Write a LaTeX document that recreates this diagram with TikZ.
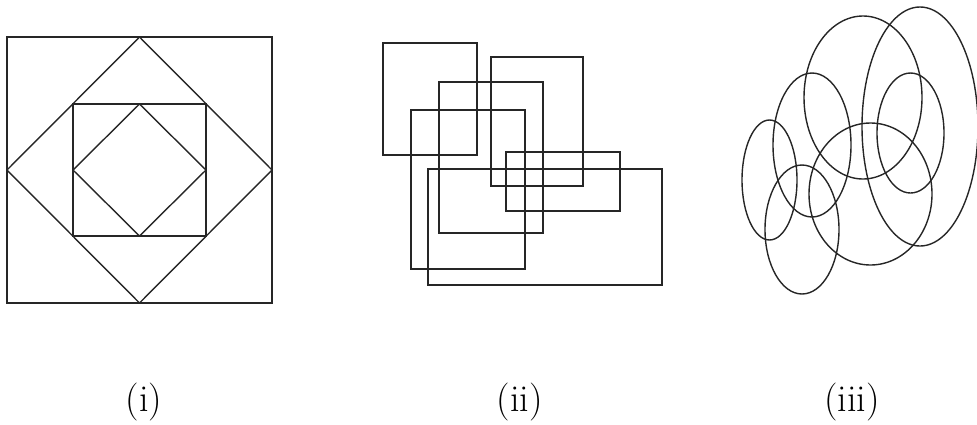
\documentclass[tikz,border=0pt]{standalone}
\begin{document}
\begin{tikzpicture}[x=1pt,y=-1pt,
  shape line/.style={draw=black!85,line width=1.4pt,line join=miter},
  caption/.style={anchor=base,inner sep=0pt,font=\fontsize{38}{40}\selectfont}]
\useasboundingbox (0,0) rectangle (977,424);
% (i)
\draw[shape line] (7,37) rectangle (272,303);
\draw[shape line] (139.5,37) -- (272,170) -- (139.5,303) -- (7,170) -- cycle;
\draw[shape line] (73,104) rectangle (206,236);
\draw[shape line] (139.5,104) -- (206,170) -- (139.5,236) -- (73,170) -- cycle;
% (ii)
\draw[shape line] (383,43) rectangle (477,155);
\draw[shape line] (491,57) rectangle (583,186);
\draw[shape line] (439,82) rectangle (543,233);
\draw[shape line] (411,110) rectangle (525,269);
\draw[shape line] (506,152) rectangle (620,211);
\draw[shape line] (428,169) rectangle (662,285);
% (iii)
\draw[shape line] (769.5,180) ellipse [x radius=27.5,y radius=60];
\draw[shape line] (812,145) ellipse [x radius=39,y radius=72];
\draw[shape line] (863,97.5) ellipse [x radius=59,y radius=81.5];
\draw[shape line] (920,126.5) ellipse [x radius=58,y radius=119.5];
\draw[shape line] (910.5,133) ellipse [x radius=33.5,y radius=60];
\draw[shape line] (870.5,194) ellipse [x radius=61.5,y radius=71];
\draw[shape line] (802,229.5) ellipse [x radius=37,y radius=64.5];
% captions
\node[caption] (c1) at (144,411.5) {(i)};
\node[caption] (c2) at (519.5,411.5) {(ii)};
\node[caption] (c3) at (852,411.5) {(iii)};
\end{tikzpicture}
\end{document}
